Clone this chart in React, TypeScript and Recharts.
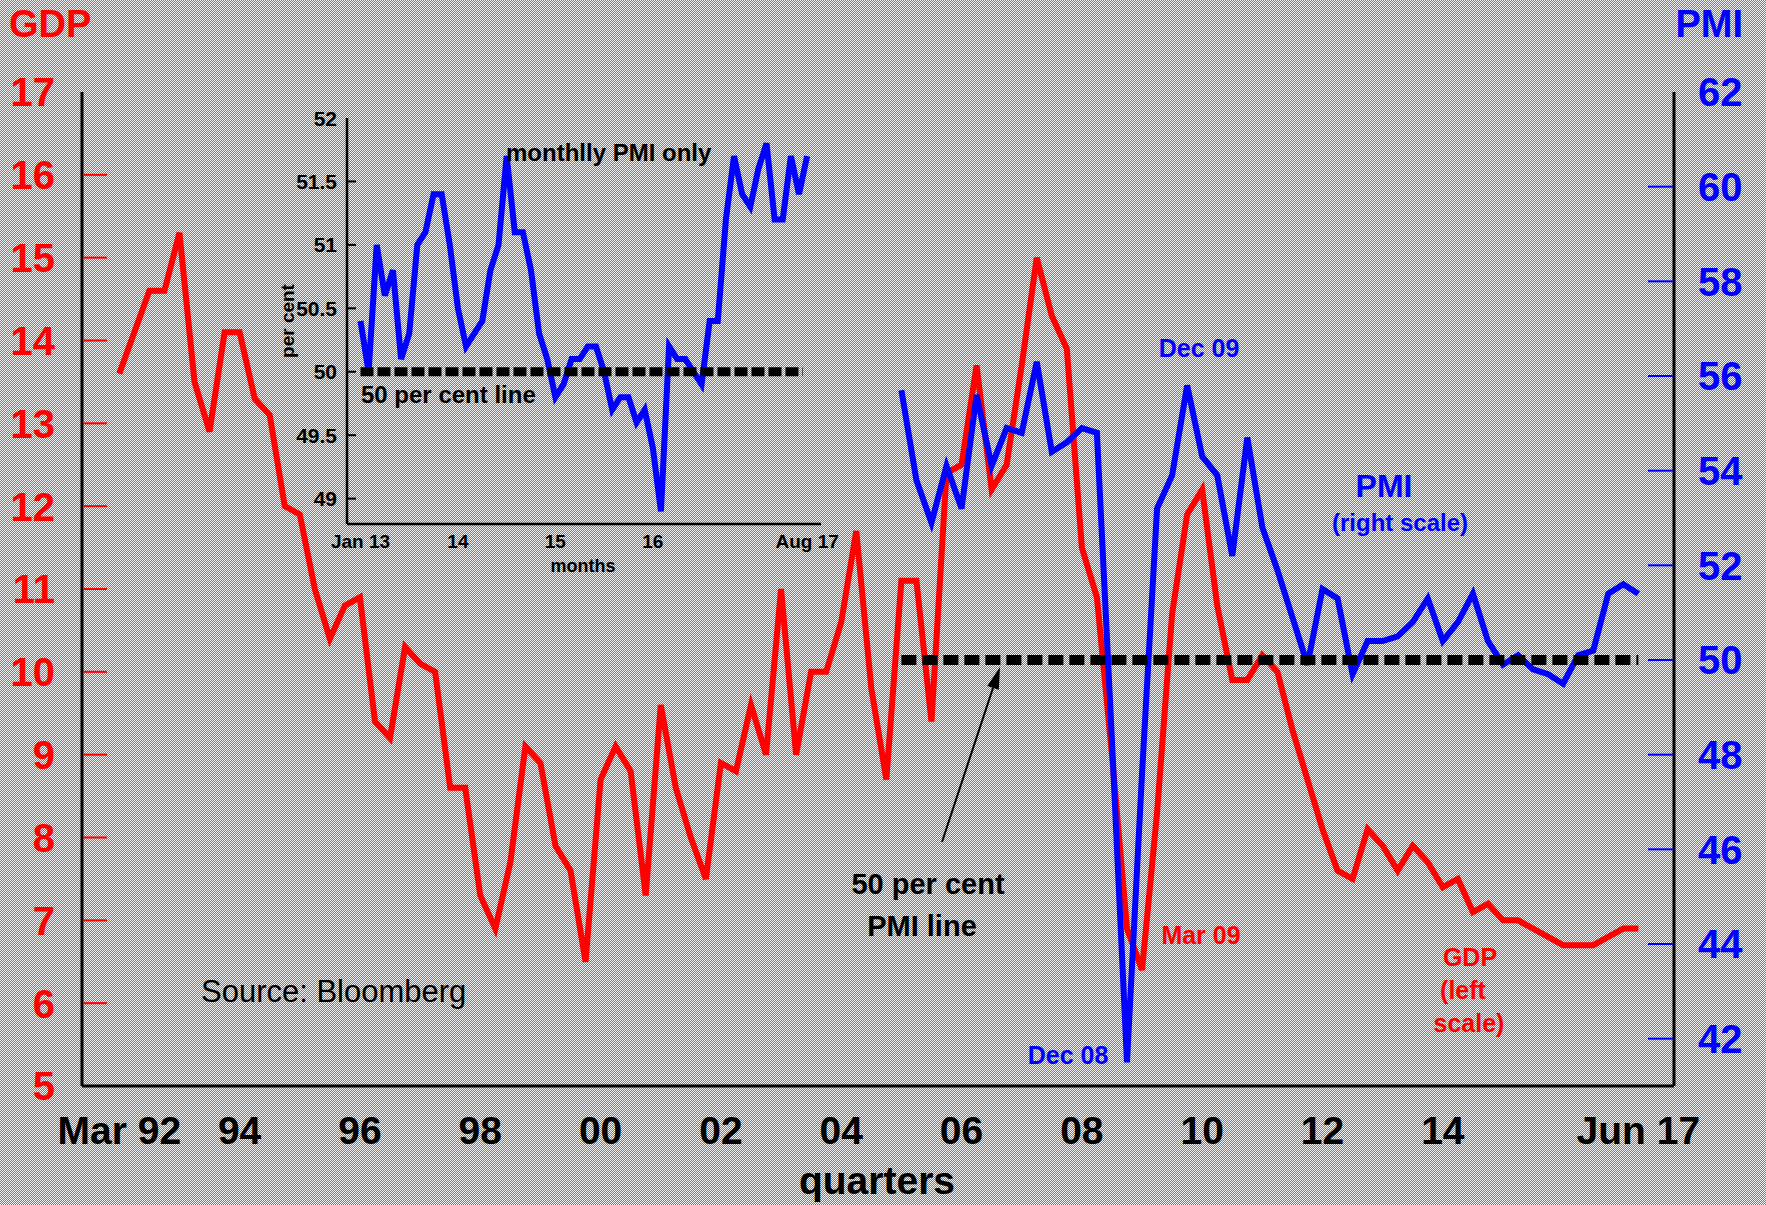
import React from "react";
import { ComposedChart, LineChart, Line, XAxis, YAxis, ReferenceLine } from "recharts";

const FONT = '"Liberation Sans", Arial, Helvetica, sans-serif';
const RED = "#ff0000";
const BLUE = "#0000ff";

// quarterly GDP growth, Mar 92 .. Jun 17 (left scale)
const gdpGrowth = [
  13.6, 14.1, 14.6, 14.6, 15.3, 13.5, 12.9, 14.1, 14.1, 13.3, 13.1, 12.0,
  11.9, 11.0, 10.4, 10.8, 10.9, 9.4, 9.2, 10.3, 10.1, 10.0, 8.6, 8.6,
  7.3, 6.9, 7.7, 9.1, 8.9, 7.9, 7.6, 6.5, 8.7, 9.1, 8.8, 7.3,
  9.6, 8.6, 8.0, 7.5, 8.9, 8.8, 9.6, 9.0, 11.0, 9.0, 10.0, 10.0,
  10.6, 11.7, 9.8, 8.7, 11.1, 11.1, 9.4, 12.4, 12.5, 13.7, 12.2, 12.5,
  13.7, 15.0, 14.3, 13.9, 11.5, 10.9, 9.0, 6.9, 6.4, 8.3, 10.7, 11.9,
  12.2, 10.8, 9.9, 9.9, 10.2, 10.0, 9.3, 8.7, 8.1, 7.6, 7.5, 8.1,
  7.9, 7.6, 7.9, 7.7, 7.4, 7.5, 7.1, 7.2, 7.0, 7.0, 6.9, 6.8,
  6.7, 6.7, 6.7, 6.8, 6.9, 6.9,
];

// quarterly PMI, Mar 05 .. Jun 17 (right scale), starts at quarter index 52
const pmiStart = 52;
const pmiQuarterly = [
  55.7, 53.8, 52.9, 54.1, 53.2, 55.6, 54.1, 54.9, 54.8, 56.3, 54.4, 54.6,
  54.9, 54.8, 48.3, 41.5, 47.6, 53.2, 53.9, 55.8, 54.3, 53.9, 52.2, 54.7,
  52.8, 51.9, 50.9, 49.9, 51.5, 51.3, 49.7, 50.4, 50.4, 50.5, 50.8, 51.3,
  50.4, 50.8, 51.4, 50.4, 49.9, 50.1, 49.8, 49.7, 49.5, 50.1, 50.2, 51.4,
  51.6, 51.4,
];

const quarterTicks = [0, 8, 16, 24, 32, 40, 48, 56, 64, 72, 80, 88, 101];
const quarterTickLabels = ["Mar 92", "94", "96", "98", "00", "02", "04", "06", "08", "10", "12", "14", "Jun 17"];
const gdpTicks = [5, 6, 7, 8, 9, 10, 11, 12, 13, 14, 15, 16, 17];
const pmiTicks = [42, 44, 46, 48, 50, 52, 54, 56, 58, 60, 62];

// monthly PMI, Jan 13 .. Aug 17 (inset)
const pmiMonthly = [
  50.4, 50.0, 51.0, 50.6, 50.8, 50.1, 50.3, 51.0, 51.1, 51.4, 51.4, 51.0,
  50.5, 50.2, 50.3, 50.4, 50.8, 51.0, 51.7, 51.1, 51.1, 50.8, 50.3, 50.1,
  49.8, 49.9, 50.1, 50.1, 50.2, 50.2, 50.0, 49.7, 49.8, 49.8, 49.6, 49.7,
  49.4, 48.9, 50.2, 50.1, 50.1, 50.0, 49.9, 50.4, 50.4, 51.2, 51.7, 51.4,
  51.3, 51.6, 51.8, 51.2, 51.2, 51.7, 51.4, 51.7,
];
const monthTicks = [0, 12, 24, 36, 55];
const monthTickLabels = ["Jan 13", "14", "15", "16", "Aug 17"];
const insetTicks = [49, 49.5, 50, 50.5, 51, 51.5, 52];

const quarterData = gdpGrowth.map((gdp, i) => ({
  i,
  gdp,
  pmi: i >= pmiStart ? pmiQuarterly[i - pmiStart] : null,
}));
const monthData = pmiMonthly.map((pmi, m) => ({ m, pmi }));

const bold = { fontFamily: FONT, fontWeight: "bold" as const };

function QuarterTick(props: any) {
  const { x, payload } = props;
  return (
    <text x={x} y={1144} textAnchor="middle" {...bold} fontSize={39} fill="#000">
      {quarterTickLabels[quarterTicks.indexOf(payload.value)]}
    </text>
  );
}

function GdpTick(props: any) {
  const { y, payload } = props;
  const v = payload.value;
  return (
    <g>
      <text x={55} y={y} dy="0.36em" textAnchor="end" {...bold} fontSize={40} fill={RED}>
        {v}
      </text>
      {v > 5 && v < 17 && <line x1={83} x2={107} y1={y} y2={y} stroke={RED} strokeWidth={2} />}
    </g>
  );
}

function PmiTick(props: any) {
  const { y, payload } = props;
  const v = payload.value;
  return (
    <g>
      <text x={1698} y={y} dy="0.36em" textAnchor="start" {...bold} fontSize={40} fill={BLUE}>
        {v}
      </text>
      {v < 62 && <line x1={1648} x2={1673} y1={y} y2={y} stroke={BLUE} strokeWidth={2} />}
    </g>
  );
}

function MonthTick(props: any) {
  const { x, payload } = props;
  return (
    <text x={x} y={448} textAnchor="middle" {...bold} fontSize={19} fill="#000">
      {monthTickLabels[monthTicks.indexOf(payload.value)]}
    </text>
  );
}

function InsetTick(props: any) {
  const { y, payload } = props;
  const v = payload.value;
  return (
    <g>
      <text x={67} y={y} dy="0.36em" textAnchor="end" {...bold} fontSize={21} fill="#000">
        {v}
      </text>
      {v < 52 && <line x1={78} x2={86} y1={y} y2={y} stroke="#000" strokeWidth={2} />}
    </g>
  );
}

function Inset() {
  return (
    <div style={{ position: "absolute", left: 270, top: 100 }}>
      <LineChart width={570} height={480} data={monthData} margin={{ top: 18, right: 19, bottom: 0, left: 0 }}>
        <XAxis
          dataKey="m"
          type="number"
          domain={[-1.66, 56.71]}
          allowDataOverflow
          ticks={monthTicks}
          interval={0}
          height={56}
          tickLine={false}
          axisLine={{ stroke: "#000", strokeWidth: 2.5 }}
          tick={<MonthTick />}
        />
        <XAxis
          xAxisId="top"
          orientation="top"
          dataKey="m"
          type="number"
          domain={[-1.66, 56.71]}
          allowDataOverflow
          height={0}
          tick={false}
          tickLine={false}
          axisLine={{ stroke: "#000", strokeWidth: 2.5 }}
        />
        <YAxis
          domain={[48.8, 52]}
          allowDataOverflow
          ticks={insetTicks}
          interval={0}
          width={77}
          tickLine={false}
          axisLine={{ stroke: "#000", strokeWidth: 2.5 }}
          tick={<InsetTick />}
        />
        <YAxis
          yAxisId="right"
          orientation="right"
          domain={[48.8, 52]}
          width={0}
          tick={false}
          tickLine={false}
          axisLine={{ stroke: "#000", strokeWidth: 2.5 }}
        />
        <Line dataKey="pmi" stroke={BLUE} strokeWidth={6} dot={false} isAnimationActive={false} />
        <ReferenceLine
          segment={[{ x: 0, y: 50 }, { x: 54.5, y: 50 }]}
          stroke="#000"
          strokeWidth={9}
          strokeDasharray="13 4"
        />
      </LineChart>
    </div>
  );
}

function Annotations() {
  return (
    <svg
      width={1766}
      height={1205}
      style={{ position: "absolute", left: 0, top: 0, pointerEvents: "none" }}
    >
      <text x={9} y={37} {...bold} fontSize={38} fill={RED}>GDP</text>
      <text x={1743} y={37} textAnchor="end" {...bold} fontSize={38} fill={BLUE}>PMI</text>
      <text x={877} y={1194} textAnchor="middle" {...bold} fontSize={39} fill="#000">quarters</text>
      <text x={201} y={1002} fontFamily={FONT} fontSize={31} fill="#000">Source: Bloomberg</text>

      <text x={928} y={894} textAnchor="middle" {...bold} fontSize={29} fill="#000">50 per cent</text>
      <text x={922} y={936} textAnchor="middle" {...bold} fontSize={29} fill="#000">PMI line</text>
      <line x1={942} y1={842} x2={993} y2={688} stroke="#000" strokeWidth={2} />
      <polygon points="1000,667 998.8,689.8 987.4,686" fill="#000" />

      <text x={1199} y={357} textAnchor="middle" {...bold} fontSize={25} fill={BLUE}>Dec 09</text>
      <text x={1068} y={1064} textAnchor="middle" {...bold} fontSize={25} fill={BLUE}>Dec 08</text>
      <text x={1201} y={944} textAnchor="middle" {...bold} fontSize={25} fill={RED}>Mar 09</text>
      <text x={1384} y={497} textAnchor="middle" {...bold} fontSize={32} fill={BLUE}>PMI</text>
      <text x={1400} y={531} textAnchor="middle" {...bold} fontSize={24} fill={BLUE}>(right scale)</text>
      <text x={1470} y={966} textAnchor="middle" {...bold} fontSize={25} fill={RED}>GDP</text>
      <text x={1463} y={999} textAnchor="middle" {...bold} fontSize={25} fill={RED}>(left</text>
      <text x={1469} y={1032} textAnchor="middle" {...bold} fontSize={25} fill={RED}>scale)</text>

      <text x={506} y={161} {...bold} fontSize={24} fill="#000">monthlly PMI only</text>
      <text x={361} y={403} {...bold} fontSize={24} fill="#000">50 per cent line</text>
      <text x={583} y={572} textAnchor="middle" {...bold} fontSize={18} fill="#000">months</text>
      <text
        x={287}
        y={321}
        textAnchor="middle"
        dy="0.36em"
        transform="rotate(-90 287 321)"
        {...bold}
        fontSize={19}
        fill="#000"
      >
        per cent
      </text>
    </svg>
  );
}

export default function App() {
  return (
    <div
      style={{
        position: "absolute",
        left: 0,
        top: 0,
        width: 1766,
        height: 1205,
        overflow: "hidden",
        background: "repeating-conic-gradient(#7c7c7c 0% 25%, #f2f2f2 0% 50%) 0 0 / 2px 2px",
      }}
    >
      <ComposedChart
        width={1766}
        height={1205}
        data={quarterData}
        margin={{ top: 92, right: 0, bottom: 0, left: 0 }}
      >
        <XAxis
          xAxisId="b"
          dataKey="i"
          type="number"
          domain={[-2.48, 103.37]}
          allowDataOverflow
          ticks={quarterTicks}
          interval={0}
          height={119}
          tickLine={false}
          axisLine={{ stroke: "#000", strokeWidth: 3 }}
          tick={<QuarterTick />}
        />
        <XAxis
          xAxisId="t"
          orientation="top"
          dataKey="i"
          type="number"
          domain={[-2.48, 103.37]}
          allowDataOverflow
          height={0}
          tick={false}
          tickLine={false}
          axisLine={{ stroke: "#000", strokeWidth: 3 }}
        />
        <YAxis
          yAxisId="gdp"
          domain={[5, 17]}
          allowDataOverflow
          ticks={gdpTicks}
          interval={0}
          width={82}
          tickLine={false}
          axisLine={{ stroke: "#000", strokeWidth: 3 }}
          tick={<GdpTick />}
        />
        <YAxis
          yAxisId="pmi"
          orientation="right"
          domain={[41, 62]}
          allowDataOverflow
          ticks={pmiTicks}
          interval={0}
          width={92}
          tickLine={false}
          axisLine={{ stroke: "#000", strokeWidth: 3 }}
          tick={<PmiTick />}
        />
        <Line
          xAxisId="b"
          yAxisId="gdp"
          dataKey="gdp"
          stroke={RED}
          strokeWidth={6}
          dot={false}
          isAnimationActive={false}
        />
        <Line
          xAxisId="b"
          yAxisId="pmi"
          dataKey="pmi"
          stroke={BLUE}
          strokeWidth={6}
          dot={false}
          isAnimationActive={false}
        />
        <ReferenceLine
          xAxisId="b"
          yAxisId="pmi"
          segment={[{ x: 52, y: 50 }, { x: 101, y: 50 }]}
          stroke="#000"
          strokeWidth={10}
          strokeDasharray="15 6"
        />
      </ComposedChart>
      <Inset />
      <Annotations />
    </div>
  );
}
